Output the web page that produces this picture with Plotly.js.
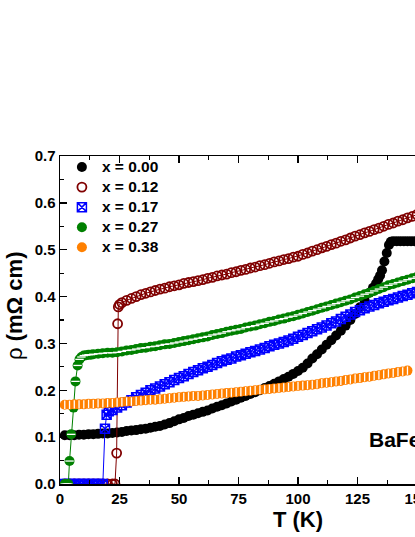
<!DOCTYPE html>
<html><head><meta charset="utf-8">
<script src="https://cdn.plot.ly/plotly-3.0.1.min.js"></script>
<style>html,body{margin:0;padding:0;overflow:hidden;width:415px;height:537px;background:#fff}#chart{width:556px;height:537px}</style>
</head><body><div id="chart"></div><script>
// x = 0.00
var t000 = [2,4,6,8,10,12,14,16,18,20,22,24,26,28,30,32,34,36,38,40,42,44,46,48,50,52,54,56,58,60,62,64,66,68,70,72,74,76,78,80,82,84,86,88,90,92,94,96,98,100,102,104,106,108,110,112,114,116,118,120,122,124,126,128,130,131.5,132.8,133.7,134.5,135.3,136.3,137.3,138.2,139,140,141.5,143,144.5,146,147.5,149,150.5];
var r000 = [0.104,0.104,0.104,0.105,0.105,0.106,0.106,0.107,0.108,0.108,0.109,0.110,0.111,0.113,0.114,0.115,0.117,0.118,0.120,0.122,0.124,0.127,0.130,0.134,0.138,0.141,0.145,0.148,0.151,0.154,0.157,0.161,0.165,0.168,0.172,0.176,0.180,0.184,0.188,0.192,0.196,0.200,0.205,0.209,0.214,0.219,0.224,0.229,0.235,0.241,0.248,0.257,0.268,0.277,0.287,0.297,0.307,0.317,0.327,0.338,0.350,0.363,0.377,0.392,0.408,0.419,0.428,0.437,0.445,0.456,0.475,0.493,0.510,0.517,0.518,0.518,0.518,0.518,0.518,0.518,0.518,0.518];
// x = 0.12
var t012 = [2,4,6,8,10,12,14,16,18,20,22,23.1,23.8,24.2,24.5,25,26,28,30,32,34,36,38,40,42,44,46,48,50,52,54,56,58,60,62,64,66,68,70,72,74,76,78,80,82,84,86,88,90,92,94,96,98,100,102,104,106,108,110,112,114,116,118,120,122,124,126,128,130,132,134,136,138,140,142,144,146,148,150];
var r012 = [0,0,0,0,0,0,0,0,0,0,0,0,0.066,0.342,0.378,0.383,0.387,0.392,0.396,0.400,0.404,0.407,0.410,0.413,0.416,0.418,0.421,0.423,0.425,0.428,0.430,0.432,0.434,0.436,0.439,0.441,0.444,0.446,0.448,0.451,0.453,0.456,0.458,0.461,0.463,0.466,0.468,0.471,0.474,0.476,0.479,0.481,0.484,0.486,0.490,0.493,0.497,0.500,0.504,0.507,0.511,0.514,0.518,0.521,0.525,0.529,0.532,0.536,0.539,0.543,0.546,0.550,0.554,0.557,0.561,0.564,0.568,0.571,0.575];
// x = 0.17
var t017 = [1.5,3,4.5,6,7.5,9,10.5,12,13.5,15,16.5,18,18.9,19.6,20.5,22,24,26,28,30,32,34,36,38,40,42,44,46,48,50,52,54,56,58,60,62,64,66,68,70,72,74,76,78,80,82,84,86,88,90,92,94,96,98,100,102,104,106,108,110,112,114,116,118,120,122,124,126,128,130,132,134,136,138,140,142,144,146,148,150];
var r017 = [0,0,0,0,0,0,0,0,0,0,0,0,0.118,0.148,0.155,0.158,0.163,0.168,0.174,0.179,0.185,0.190,0.195,0.200,0.204,0.208,0.213,0.217,0.222,0.226,0.230,0.235,0.239,0.243,0.247,0.250,0.254,0.258,0.262,0.265,0.268,0.272,0.275,0.278,0.281,0.284,0.287,0.290,0.294,0.297,0.300,0.303,0.306,0.310,0.314,0.318,0.322,0.326,0.330,0.334,0.338,0.343,0.347,0.352,0.357,0.362,0.367,0.371,0.375,0.379,0.382,0.386,0.389,0.392,0.395,0.398,0.401,0.404,0.407,0.410];
// x = 0.27
var t027 = [2,2.8,3.5,4.0,4.7,5.7,6.5,7.4,8.2,9,10,11,12,13,14,16,18,20,22,24,26,28,30,32,34,36,38,40,42,44,46,48,50,52,54,56,58,60,62,64,66,68,70,72,74,76,78,80,82,84,86,88,90,92,94,96,98,100,102,104,106,108,110,112,114,116,118,120,122,124,126,128,130,132,134,136,138,140,142,144,146,148,150];
var r027 = [0,0,0,0.049,0.106,0.163,0.219,0.253,0.266,0.271,0.274,0.275,0.276,0.276,0.277,0.278,0.279,0.280,0.280,0.281,0.283,0.285,0.286,0.288,0.290,0.291,0.293,0.294,0.296,0.298,0.299,0.301,0.303,0.305,0.307,0.309,0.311,0.313,0.315,0.318,0.320,0.322,0.325,0.327,0.329,0.331,0.334,0.336,0.338,0.341,0.343,0.346,0.348,0.351,0.353,0.356,0.358,0.361,0.364,0.367,0.370,0.373,0.376,0.379,0.382,0.385,0.388,0.391,0.394,0.398,0.401,0.405,0.408,0.412,0.416,0.420,0.424,0.427,0.430,0.433,0.436,0.439,0.442];
// x = 0.38
var t038 = [2,4,6,8,10,12,14,16,18,20,22,24,26,28,30,32,34,36,38,40,42,44,46,48,50,52,54,56,58,60,62,64,66,68,70,72,74,76,78,80,82,84,86,88,90,92,94,96,98,100,102,104,106,108,110,112,114,116,118,120,122,124,126,128,130,132,134,136,138,140,142,144,146];
var r038 = [0.169,0.169,0.170,0.170,0.170,0.171,0.171,0.172,0.172,0.173,0.173,0.174,0.175,0.176,0.176,0.177,0.178,0.179,0.180,0.180,0.181,0.182,0.183,0.184,0.185,0.186,0.187,0.188,0.188,0.189,0.190,0.191,0.192,0.193,0.194,0.195,0.196,0.197,0.198,0.199,0.200,0.201,0.202,0.203,0.204,0.205,0.206,0.207,0.208,0.209,0.210,0.211,0.212,0.213,0.215,0.216,0.217,0.219,0.220,0.222,0.223,0.225,0.226,0.228,0.229,0.231,0.232,0.234,0.236,0.237,0.239,0.240,0.242];

var seriesNames = ['x = 0.00','x = 0.12','x = 0.17','x = 0.27','x = 0.38'];
var xTickVals = [0,25,50,75,100,125,150,175,200];
var yTickVals = [0,0.1,0.2,0.3,0.4,0.5,0.6,0.7];

var FONT = 'Liberation Sans, Arial, Helvetica, sans-serif';
var seriesX = [t000,t012,t017,t027,t038];
var seriesY = [r000,r012,r017,r027,r038];
var colors = ['#000000','#800000','#0000ff','#008000','#ff8000'];
var markers = [
  {symbol:'circle',size:10,color:colors[0]},
  {symbol:'circle-open',size:9,color:colors[1],line:{width:1.8}},
  {symbol:'square-x-open',size:9,color:colors[2],line:{width:1.5}},
  {symbol:'circle',size:10,color:colors[3]},
  {symbol:'circle',size:10,color:colors[4]}
];
var overlays = [null,null,null,
  {symbol:'line-ew',size:6,color:'#fff',line:{color:'#fff',width:1.3}},
  {symbol:'line-ns',size:6,color:'#fff',line:{color:'#fff',width:1.3}}];

var traces = [];
for (var i = 0; i < 5; i++) {
  traces.push({x:seriesX[i],y:seriesY[i],mode:'lines',showlegend:false,hoverinfo:'skip',
    line:{color:colors[i],width:1}});
  traces.push({x:seriesX[i],y:seriesY[i],mode:'markers',
    name:'<span style="font-size:15.5px">' + seriesNames[i] + '</span>',marker:markers[i]});
  if (overlays[i]) {
    traces.push({x:seriesX[i],y:seriesY[i],mode:'markers',showlegend:false,hoverinfo:'skip',marker:overlays[i]});
  }
}

var axisCommon = {
  ticks:'inside', ticklen:7, tickwidth:1.5, tickcolor:'#000',
  showline:true, linewidth:1.5, linecolor:'#000', mirror:'ticks',
  showgrid:false, zeroline:false,
  tickfont:{family:FONT,size:15,color:'#000',weight:'bold'}
};

var layout = {
  width:556, height:537,
  margin:{l:60,r:20,t:156,b:53},
  paper_bgcolor:'#fff', plot_bgcolor:'#fff',
  font:{family:FONT,color:'#000',weight:'bold'},
  showlegend:true,
  legend:{x:0.004,y:1.012,xanchor:'left',yanchor:'top',bgcolor:'rgba(0,0,0,0)',
    font:{family:FONT,size:13.1,color:'#000',weight:'bold'},tracegroupgap:0},
  xaxis:Object.assign({}, axisCommon, {
    range:[0,200], tickvals:xTickVals, ticktext:xTickVals.map(String),
    minor:{dtick:12.5,tick0:0,ticks:'inside',ticklen:4,tickwidth:1.2,tickcolor:'#000'},
    title:{text:'T (K)',font:{family:FONT,size:22,color:'#000',weight:'bold'},standoff:6}
  }),
  yaxis:Object.assign({}, axisCommon, {
    range:[0,0.7], tickvals:yTickVals, ticktext:yTickVals.map(function(v){return v.toFixed(1);}),
    minor:{dtick:0.05,tick0:0,ticks:'inside',ticklen:4,tickwidth:1.2,tickcolor:'#000'}
  }),
  annotations:[
    {xref:'paper',yref:'paper',x:0.645,y:0.131,xanchor:'left',yanchor:'middle',
     showarrow:false,text:'BaFe<sub>2</sub>As<sub>2</sub>',
     font:{family:FONT,size:21,color:'#000',weight:'bold'}},
    {xref:'paper',yref:'paper',x:-0.0945,y:0.543,xanchor:'center',yanchor:'middle',textangle:-90,
     showarrow:false,text:'<span style="font-weight:normal">\u03c1</span> (m\u03a9 cm)',
     font:{family:FONT,size:22,color:'#000',weight:'bold'}}
  ]
};

Plotly.newPlot('chart', traces, layout, {displayModeBar:false, staticPlot:true});
</script></body></html>
